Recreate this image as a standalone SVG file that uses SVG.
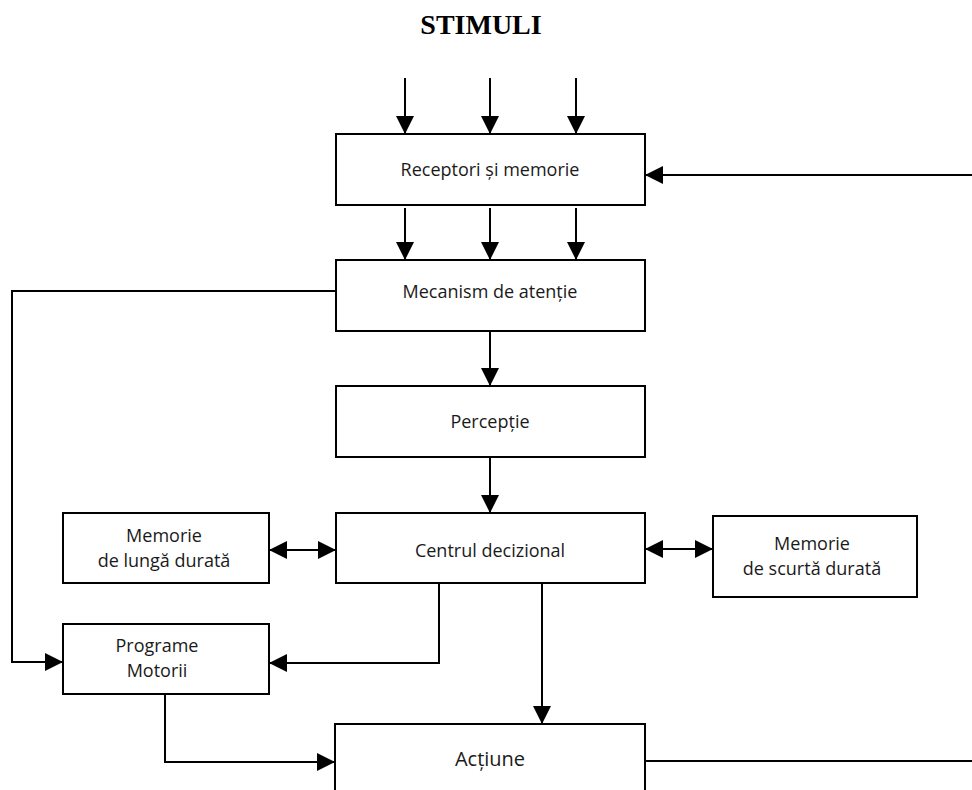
<svg xmlns="http://www.w3.org/2000/svg" width="972" height="790" viewBox="0 0 972 790">
<style>
.box{fill:#fff;stroke:#000;stroke-width:2}
.lbl{font-family:"Open Sans","Noto Sans",sans-serif;font-size:18px;fill:#1a1a1a;text-anchor:middle}
.ln{fill:none;stroke:#000;stroke-width:2}
.title{font-family:"Liberation Serif",serif;font-weight:bold;font-size:28px;fill:#000;text-anchor:middle}
</style>
<defs>
<marker id="ah" markerUnits="userSpaceOnUse" markerWidth="18" markerHeight="18" refX="18" refY="9" orient="auto-start-reverse">
<path d="M0,0 L18,9 L0,18 z" fill="#000"/>
</marker>
</defs>
<rect width="972" height="790" fill="#fff"/>
<text class="title" x="481" y="34">STIMULI</text>
<g id="receptori"><rect class="box" x="336" y="134" width="309" height="71"/><text class="lbl" x="490" y="176">Receptori și memorie</text></g>
<g id="mecanism"><rect class="box" x="336" y="260" width="309" height="71"/><text class="lbl" x="490" y="298">Mecanism de atenție</text></g>
<g id="perceptie"><rect class="box" x="336" y="386" width="309" height="71"/><text class="lbl" x="490" y="428">Percepție</text></g>
<g id="centrul"><rect class="box" x="336" y="513" width="309" height="70"/><text class="lbl" x="490" y="557">Centrul decizional</text></g>
<g id="memorie-lunga"><rect class="box" x="63" y="513" width="206" height="70"/><text class="lbl" x="164" y="542">Memorie</text><text class="lbl" x="164" y="567">de lungă durată</text></g>
<g id="memorie-scurta"><rect class="box" x="713" y="516" width="204" height="81"/><text class="lbl" x="812" y="550">Memorie</text><text class="lbl" x="812" y="575">de scurtă durată</text></g>
<g id="programe"><rect class="box" x="63" y="624" width="206" height="70"/><text class="lbl" x="157" y="652">Programe</text><text class="lbl" x="157" y="677">Motorii</text></g>
<g id="actiune"><rect class="box" x="335" y="724" width="310" height="90"/><text class="lbl" x="490" y="766" style="font-size:20px">Acțiune</text></g>
<g id="connectors">
<path class="ln" d="M405,78 L405,134" marker-end="url(#ah)"/>
<path class="ln" d="M490,78 L490,134" marker-end="url(#ah)"/>
<path class="ln" d="M576,78 L576,134" marker-end="url(#ah)"/>
<path class="ln" d="M405,208 L405,260" marker-end="url(#ah)"/>
<path class="ln" d="M490,208 L490,260" marker-end="url(#ah)"/>
<path class="ln" d="M576,208 L576,260" marker-end="url(#ah)"/>
<path class="ln" d="M972,175 L645,175" marker-end="url(#ah)"/>
<path class="ln" d="M490,331 L490,386" marker-end="url(#ah)"/>
<path class="ln" d="M490,457 L490,513" marker-end="url(#ah)"/>
<path class="ln" d="M269,550 L336,550" marker-start="url(#ah)" marker-end="url(#ah)"/>
<path class="ln" d="M645,549 L713,549" marker-start="url(#ah)" marker-end="url(#ah)"/>
<path class="ln" d="M336,291 L12,291 L12,662 L63,662" marker-end="url(#ah)"/>
<path class="ln" d="M439,583 L439,663 L269,663" marker-end="url(#ah)"/>
<path class="ln" d="M542,583 L542,724" marker-end="url(#ah)"/>
<path class="ln" d="M165,694 L165,762 L335,762" marker-end="url(#ah)"/>
<path class="ln" d="M645,761 L972,761"/>
</g>
</svg>
